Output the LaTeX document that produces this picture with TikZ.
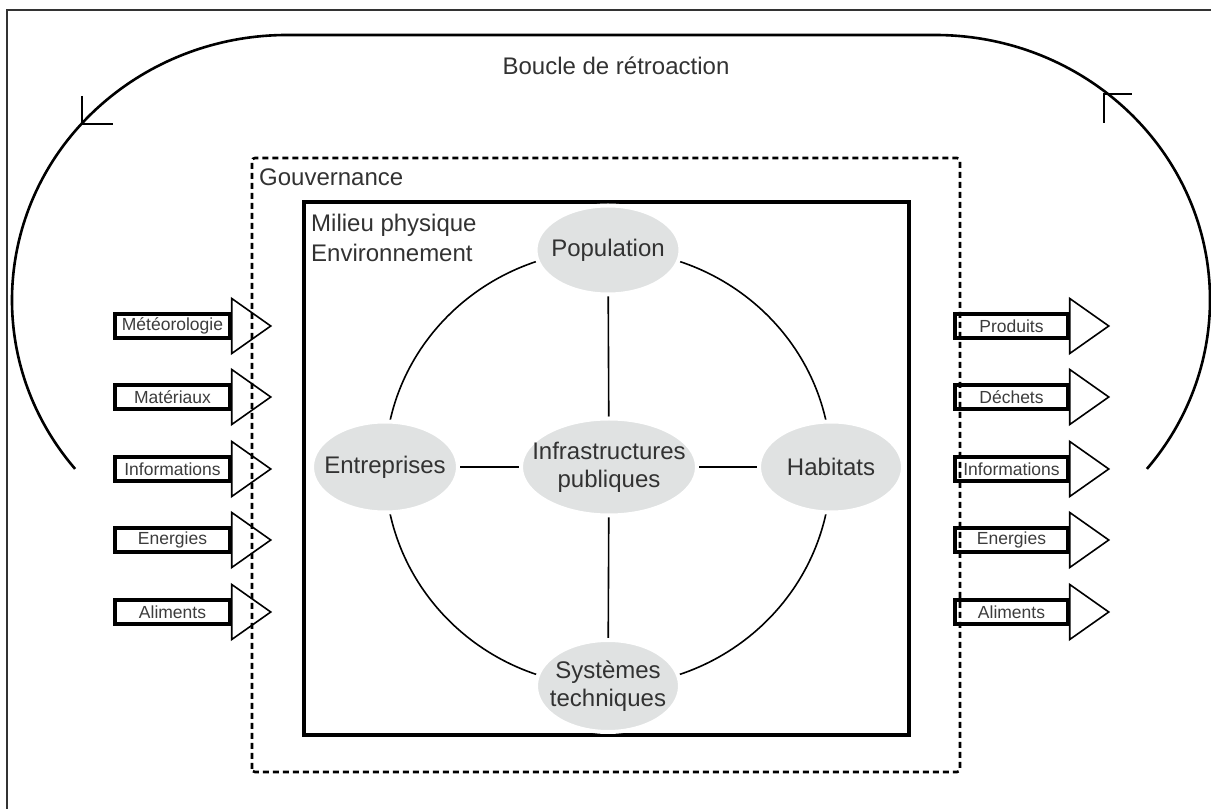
\documentclass[tikz,border=0pt]{standalone}
\usepackage{fontspec}
\setmainfont{Liberation Sans}
\usetikzlibrary{shapes.geometric,backgrounds}
\definecolor{bubgrey}{RGB}{224,226,226}
\definecolor{txt}{RGB}{50,50,50}
\definecolor{boxtxt}{RGB}{60,60,60}
\begin{document}
\begin{tikzpicture}[x=1pt,y=1pt,
  bigtext/.style={font=\fontsize{24}{30}\selectfont, text=txt, inner sep=0pt},
  bub/.style={ellipse, fill=bubgrey, draw=white, line width=4pt, inner sep=0pt},
  bublabel/.style={font=\fontsize{24}{28}\selectfont, text=txt, align=center, inner sep=0pt},
  inbox/.style={draw, line width=3.5pt, minimum height=24pt, inner sep=0pt,
     font=\fontsize{17.5}{20}\selectfont, text=boxtxt},
  tri/.style={draw, line width=1.6pt, line join=miter},
  link/.style={line width=1.6pt},
  loopline/.style={line width=2.6pt},
  gov/.style={line width=2.6pt, dash pattern=on 6pt off 4pt, rounded corners=3pt},
  milieu/.style={line width=3.5pt},
  frameline/.style={line width=1.8pt, draw=black!80}]
\useasboundingbox (0,0) rectangle (1211,809);
% frame
\draw[frameline] (7,0) -- (7,799) -- (1211,799);
% feedback loop
\draw[loopline] (75.1,340.1) arc[start angle=219.6, end angle=90, x radius=275, y radius=265]
   -- (935,774) arc[start angle=90, end angle=-39.6, x radius=275, y radius=265];
\draw[line width=1.6pt] (82,713) -- (82,685) -- (113,685);
\draw[line width=1.6pt] (1104,686) -- (1104,715) -- (1132,715);
\node[bigtext] (boucle) at (616,743) {Boucle de rétroaction};
% governance and environment
\draw[gov] (252,37) rectangle (960,651);
\node[bigtext, anchor=west] (gouv) at (259,632) {Gouvernance};
\draw[milieu] (304,74) rectangle (909,607);
\node[bigtext, anchor=west, align=left] (mil) at (311,571) {Milieu physique\\Environnement};
% bubbles
\node[bub, minimum width=145pt, minimum height=89pt, label={[bublabel]center:Population}] (pop) at (608,559) {};
\node[bub, minimum width=176pt, minimum height=97pt, label={[bublabel]center:Infrastructures\\publiques}] (inf) at (609,342) {};
\node[bub, minimum width=146pt, minimum height=91pt, label={[bublabel]center:Entreprises}] (ent) at (385,342) {};
\node[bub, minimum width=144pt, minimum height=91pt, label={[bublabel]center:Habitats}] (hab) at (831,342) {};
\node[bub, minimum width=144pt, minimum height=92pt, label={[bublabel]center:Systèmes\\techniques}] (sys) at (608,123) {};
% links
\begin{scope}[on background layer]
\draw[link] (pop.center) to[out=0,in=90] (hab.center);
\draw[link] (hab.center) to[out=-90,in=0] (sys.center);
\draw[link] (sys.center) to[out=180,in=-90] (ent.center);
\draw[link] (ent.center) to[out=90,in=180] (pop.center);
\draw[link] (pop.center) -- (inf.center);
\draw[link] (inf.center) -- (sys.center);
\draw[link] (ent.center) -- (inf.center);
\draw[link] (inf.center) -- (hab.center);
\end{scope}
% inputs
\foreach \n/\t/\y in {i1/Météorologie/483, i2/Matériaux/412, i3/Informations/340, i4/Energies/269, i5/Aliments/197}{
  \node[inbox, minimum width=115pt] (\n) at (172.5,\y) {\t};
  \draw[tri] (\n.east) ++(0,27.5) -- ++(39,-27.5) -- ++(-39,-27.5) -- cycle;
}
% outputs
\foreach \n/\t/\y in {o1/Produits/483, o2/Déchets/412, o3/Informations/340, o4/Energies/269, o5/Aliments/197}{
  \node[inbox, minimum width=113pt] (\n) at (1011.5,\y) {\t};
  \draw[tri] (\n.east) ++(0,27.5) -- ++(39,-27.5) -- ++(-39,-27.5) -- cycle;
}
\end{tikzpicture}
\end{document}
